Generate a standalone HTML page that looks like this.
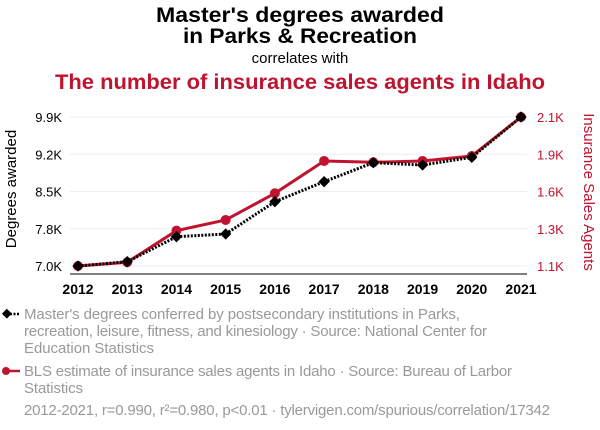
<!DOCTYPE html>
<html><head><meta charset="utf-8"><style>
body{margin:0;background:#fff;width:600px;height:430px;overflow:hidden;font-family:"Liberation Sans",sans-serif}
svg{position:absolute;left:0;top:0}
</style></head><body>
<svg width="600" height="430" xmlns="http://www.w3.org/2000/svg">
<text x="300" y="22" text-anchor="middle" font-size="21" font-weight="bold" fill="#000" textLength="288" lengthAdjust="spacingAndGlyphs">Master's degrees awarded</text>
<text x="300" y="43" text-anchor="middle" font-size="21" font-weight="bold" fill="#000" textLength="234" lengthAdjust="spacingAndGlyphs">in Parks &amp; Recreation</text>
<text x="300" y="63" text-anchor="middle" font-size="15" fill="#000">correlates with</text>
<text x="300" y="89" text-anchor="middle" font-size="21" font-weight="bold" fill="#c0132f" textLength="490" lengthAdjust="spacingAndGlyphs">The number of insurance sales agents in Idaho</text>
<g id="grid"></g>
<g id="axes"></g>
<g id="marks"></g>
<text transform="translate(16,189) rotate(-90)" text-anchor="middle" font-size="15" fill="#000">Degrees awarded</text>
<text transform="translate(584,192) rotate(90)" text-anchor="middle" font-size="15" fill="#c0132f">Insurance Sales Agents</text>
<g>
<line x1="3" y1="314" x2="20" y2="314" stroke="#000" stroke-width="2.5" stroke-dasharray="2,1.5"/>
<rect x="3" y="310" width="7" height="7" transform="rotate(45 6.5 314)" fill="#000"/>
<text font-size="15" fill="#999" lengthAdjust="spacingAndGlyphs"><tspan x="24" y="319" textLength="436">Master's degrees conferred by postsecondary institutions in Parks,</tspan></text>
<text font-size="15" fill="#999"><tspan x="24" y="336" textLength="463">recreation, leisure, fitness, and kinesiology · Source: National Center for</tspan></text>
<text font-size="15" fill="#999"><tspan x="24" y="353" textLength="130">Education Statistics</tspan></text>
</g>
<g>
<line x1="3" y1="371" x2="20" y2="371" stroke="#c0132f" stroke-width="2.5"/>
<circle cx="6" cy="371" r="4" fill="#c0132f"/>
<text font-size="15" fill="#999"><tspan x="24" y="376" textLength="488">BLS estimate of insurance sales agents in Idaho · Source: Bureau of Larbor</tspan></text>
<text font-size="15" fill="#999"><tspan x="24" y="393" textLength="59">Statistics</tspan></text>
</g>
<text x="24" y="415" font-size="15" fill="#999" textLength="526">2012-2021, r=0.990, r²=0.980, p&lt;0.01 · tylervigen.com/spurious/correlation/17342</text>
</svg>
<script>
const years=[2012,2013,2014,2015,2016,2017,2018,2019,2020,2021];
const degrees=[7000,7084,7570,7623,8252,8641,9011,8966,9116,9900];
const agents=[1100,1125,1337,1409,1588,1805,1796,1805,1838,2100];
const leftTicks=["7.0K","7.8K","8.5K","9.2K","9.9K"];
const rightTicks=["1.1K","1.3K","1.6K","1.9K","2.1K"];
const NS="http://www.w3.org/2000/svg";
const x0=78,x1=521,yB=266,yT=117;
const lmin=Math.min(...degrees),lmax=Math.max(...degrees);
const rmin=Math.min(...agents),rmax=Math.max(...agents);
const xs=i=>x0+(x1-x0)*i/(years.length-1);
const yl=v=>yB-(v-lmin)/(lmax-lmin)*(yB-yT);
const yr=v=>yB-(v-rmin)/(rmax-rmin)*(yB-yT);
function mk(t,a,p){const e=document.createElementNS(NS,t);for(const k in a)e.setAttribute(k,a[k]);p.appendChild(e);return e;}
const grid=document.getElementById('grid'),axes=document.getElementById('axes'),marks=document.getElementById('marks');
leftTicks.forEach((t,i)=>{const y=yB-(yB-yT)*i/(leftTicks.length-1);
const g=mk('line',{x1:x0-8,x2:x1+6,y1:y,y2:y,stroke:'#eee','stroke-width':1},grid);


const a=mk('text',{x:62,y:y+5,'text-anchor':'end','font-size':13,fill:'#000'},axes);a.textContent=t;


const b=mk('text',{x:537,y:y+5,'font-size':13,fill:'#c0132f'},axes);b.textContent=rightTicks[i];

});
const ax=mk('line',{x1:x0-8,x2:x1+6,y1:274,y2:274,stroke:'#000','stroke-width':1},axes);


years.forEach((yv,i)=>{const t=mk('text',{x:xs(i),y:294,'text-anchor':'middle','font-size':14,'font-weight':'bold',fill:'#000'},axes);t.textContent=yv;

});
const rl=mk('polyline',{points:agents.map((v,i)=>xs(i)+','+yr(v)).join(' '),fill:'none',stroke:'#c0132f','stroke-width':3},marks);


agents.forEach((v,i)=>{const c=mk('circle',{cx:xs(i),cy:yr(v),r:5,fill:'#c0132f'},marks);

});
const dl=mk('polyline',{points:degrees.map((v,i)=>xs(i)+','+yl(v)).join(' '),fill:'none',stroke:'#000','stroke-width':3,'stroke-dasharray':'2,1.5'},marks);


degrees.forEach((v,i)=>{const x=xs(i),y=yl(v);const r=mk('rect',{x:x-4,y:y-4,width:8,height:8,fill:'#000',transform:`rotate(45 ${x} ${y})`},marks);

});
</script>
</body></html>
